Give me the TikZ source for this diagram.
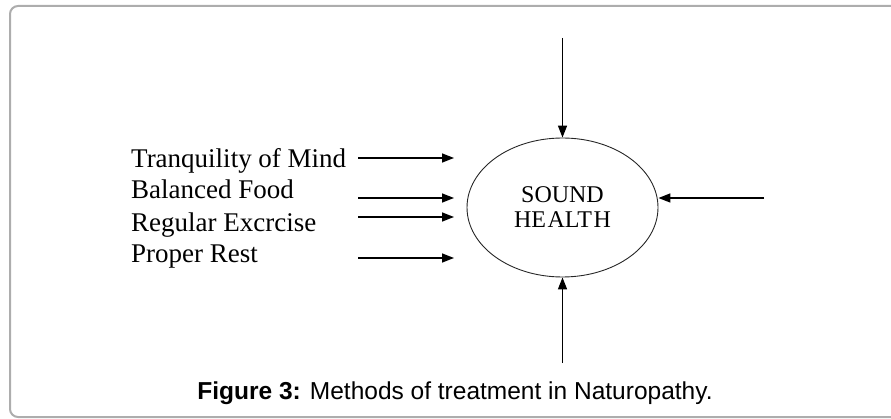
\documentclass[tikz,border=0pt]{standalone}
\usepackage{fontspec}
\setmainfont{Liberation Serif}
\newfontfamily\captionfont{Liberation Sans}
\usetikzlibrary{shapes.geometric,arrows.meta}
\definecolor{framegray}{HTML}{ADADAD}
\begin{document}
\begin{tikzpicture}[x=1pt,y=-1pt,
  factor/.style={anchor=base west,inner sep=0pt,font=\fontsize{27}{30}\selectfont},
  hub/.style={ellipse,draw=black!85,line width=0.9pt,minimum width=191pt,minimum height=139pt,inner sep=0pt,align=center,font=\fontsize{24}{25}\selectfont},
  feed/.style={line width=1.6pt,-{Triangle[length=12pt,width=9pt]}},
  capt/.style={anchor=base,inner sep=0pt,font=\captionfont\fontsize{24.5}{28}\selectfont}]
  \useasboundingbox (0,0) rectangle (891,419);
  \begin{scope}
    \clip (0,0) rectangle (891,419);
    \draw[framegray,line width=2pt,rounded corners=8pt] (10,6) rectangle (910,417);
  \end{scope}

  % central goal
  \node[hub] (health) at (562.5,207.5) {SOUND\\HE\kern1.5ptALT\kern1.5ptH};

  % factor labels
  \node[factor] (mind) at (131,168) {Tranquility of Mind};
  \node[factor] (food) at (131,199) {Balanced Food};
  \node[factor] (exer) at (131,232) {Regular Excrcise};
  \node[factor] (rest) at (131,263) {Proper Rest};

  % arrow end points
  \coordinate (a1) at (358,158); \coordinate (b1) at (454,158);
  \coordinate (a2) at (358,198); \coordinate (b2) at (454,198);
  \coordinate (a3) at (358,217); \coordinate (b3) at (454,217);
  \coordinate (a4) at (358,258); \coordinate (b4) at (454,258);
  \coordinate (topin) at (562.5,38);
  \coordinate (botin) at (562.5,363);
  \coordinate (rightin) at (764,198);

  \draw[feed] (a1) -- (b1);
  \draw[feed] (a2) -- (b2);
  \draw[feed] (a3) -- (b3);
  \draw[feed] (a4) -- (b4);
  \draw[feed] (topin) -- (health.north);
  \draw[feed] (botin) -- (health.south);
  \draw[feed] (rightin) -- (rightin -| health.east);

  % caption
  \node[capt] (caption) at (455,399) {\textbf{Figure 3:} Methods of treatment in Naturopathy.};
\end{tikzpicture}
\end{document}
